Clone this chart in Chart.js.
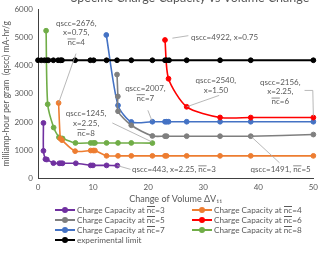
<!DOCTYPE html>
<html lang="en">
<head>
<meta charset="UTF-8" />
<title>Specific Charge Capacity vs Volume Change</title>
<script src="https://cdn.jsdelivr.net/npm/chart.js@4.4.0/dist/chart.umd.min.js"></script>
<style>
    body { margin: 0; background: #fff; font-family: Lato, sans-serif; }
    #wrap { position: relative; width: 323px; height: 256px; overflow: hidden; }
    #title { position: absolute; left: 0; top: -10px; width: 380px; text-align: center;
             font-size: 12.5px; color: #595959; white-space: nowrap; }
    #legend { position: absolute; left: 55px; top: 205px; display: grid;
              grid-template-columns: 137px 120px; font-size: 8.2px; color: #595959; }
    .item { display: flex; align-items: center; height: 10px; white-space: nowrap; }
    .swatch { position: relative; flex: none; width: 20px; height: 2px; margin-right: 2px; }
    .swatch i { position: absolute; left: 7px; top: -2px; width: 6px; height: 6px; border-radius: 50%; }
    .ov { display: inline-block; line-height: 6px; border-top: 0.8px solid #595959; }
</style>
</head>
<body>
<div id="wrap">
    <canvas id="chart" width="323" height="256"></canvas>
    <div id="title">Specific Charge Capacity vs Volume Change</div>
    <div id="legend"></div>
</div>
<script>
    // values (x = change of volume, y = qscc mA-hr/g)
    const x3 = [0.99, 0.99, 1.35, 1.6, 2.8, 3.87, 4.17, 4.46, 6.87, 9.57, 9.98, 12.45, 14.4];
    const y3 = [1963, 969, 670, 660, 530, 525, 525, 525, 525, 450, 450, 450, 443];
    const x4 = [3.74, 4.05, 4.35, 6.74, 9.57, 10.04, 10.34, 12.45, 14.53, 16.94, 20.77, 23.06, 23.35, 27.0, 33.06, 38.63, 50];
    const y4 = [2676, 1409, 1350, 958, 980, 980, 980, 792, 790, 790, 790, 790, 790, 790, 790, 790, 790];
    const x5 = [14.35, 14.5, 14.53, 16.94, 20.77, 23.06, 23.35, 27.0, 33.06, 38.63, 50];
    const y5 = [3690, 2910, 2380, 1881, 1500, 1491, 1491, 1491, 1491, 1491, 1550];
    const x6 = [23.06, 23.7, 27.0, 33.06, 38.63, 50];
    const y6 = [4922, 3540, 2540, 2160, 2156, 2156];
    const x7 = [12.4, 14.53, 16.94, 20.77, 23.06, 23.35, 23.7, 27.0, 33.06, 38.63, 50];
    const y7 = [5101, 2591, 2000, 2007, 2007, 2007, 2007, 2007, 2007, 2007, 2007];
    const x8 = [1.47, 1.76, 2.84, 3.8, 4.2, 4.46, 6.8, 9.57, 10.04, 10.34, 12.45, 14.53, 16.94, 20.77];
    const y8 = [5254, 2630, 1800, 1450, 1409, 1409, 1250, 1250, 1250, 1250, 1250, 1250, 1250, 1245];
    const xLimit = [0, 0.6, 1.17, 1.62, 1.89, 2.79, 3.65, 4.1, 4.35, 6.74, 9.5, 10.1, 12.45, 14.35, 16.94, 20.77, 23.06, 23.35, 23.8, 27.0, 33.06, 38.63, 50];
    const yLimit = [4200, 4200, 4200, 4200, 4200, 4200, 4200, 4200, 4200, 4200, 4200, 4200, 4200, 4200, 4200, 4200, 4200, 4200, 4200, 4200, 4200, 4200, 4200];

    const seriesLabels = ['Charge Capacity at nc=3', 'Charge Capacity at nc=4', 'Charge Capacity at nc=5',
        'Charge Capacity at nc=6', 'Charge Capacity at nc=7', 'Charge Capacity at nc=8', 'experimental limit'];
    const seriesColors = ['#7030A0', '#ED7D31', '#7F7F7F', '#FF0000', '#4472C4', '#70AD47', '#000000'];
    const seriesX = [x3, x4, x5, x6, x7, x8, xLimit];
    const seriesY = [y3, y4, y5, y6, y7, y8, yLimit];

    // call-out labels: text position and leader lines given in data units
    const callouts = [
        { lines: ['qscc=2676,', 'x=0.75,', 'nc=4'], at: [6.94, 5527], align: 'center', leader: [[6.9, 4437], [3.74, 2676]] },
        { lines: ['qscc=4922, x=0.75'], at: [27.8, 5016], align: 'left', leader: [[24.4, 4988], [27.3, 5077]] },
        { lines: ['qscc=2007,', 'nc=7'], at: [19.5, 3195], align: 'center', leader: [[19.95, 2414], [20.7, 2041]] },
        { lines: ['qscc=2540,', 'x=1.50'], at: [32.3, 3479], align: 'center', leader: [[32.9, 2947], [27.0, 2540]] },
        { lines: ['qscc=2156,', 'x=2.25,', 'nc=6'], at: [44.0, 3419], align: 'center', leader: [[48.4, 3124], [49.9, 3124], [50, 2200]] },
        { lines: ['qscc=1245,', 'x=2.25,', 'nc=8'], at: [8.73, 2297], align: 'center', leader: [[13.5, 1963], [20.66, 1289]] },
        { lines: ['qscc=443, x=2.25, nc=3'], at: [17.08, 309], align: 'left', leader: [[14.4, 443], [16.8, 309]] },
        { lines: ['qscc=1491, nc=5'], at: [38.6, 309], align: 'left', leader: [[43.85, 543], [38.63, 1491]] }
    ];

    const datasets = seriesLabels.map((label, i) => ({
        label: label,
        data: seriesX[i].map((x, k) => ({ x: x, y: seriesY[i][k] })),
        showLine: true,
        borderColor: seriesColors[i],
        backgroundColor: seriesColors[i],
        borderWidth: i === 6 ? 2 : 1.6,
        pointRadius: 2.4,
        pointBorderWidth: 1,
        tension: i === 6 ? 0 : 0.25,
        clip: 6,
        order: i === 6 ? -1 : i
    }));

    // legend as html so the overline on nc works
    const legendEl = document.getElementById('legend');
    seriesLabels.forEach((label, i) => {
        const item = document.createElement('div');
        item.className = 'item';
        item.innerHTML = '<span class="swatch" style="background:' + seriesColors[i] + '"><i style="background:' + seriesColors[i] + '"></i></span>' +
            '<span>' + label.replace('nc', '<span class="ov">nc</span>') + '</span>';
        legendEl.appendChild(item);
    });

    // draws the call-outs; every "nc" gets an overline
    const calloutPlugin = {
        id: 'callouts',
        afterDatasetsDraw(chart) {
            const ctx = chart.ctx;
            const sx = chart.scales.x, sy = chart.scales.y;
            ctx.save();
            ctx.font = '8px Lato';
            ctx.textBaseline = 'middle';
            callouts.forEach(c => {
                ctx.strokeStyle = '#A6A6A6';
                ctx.lineWidth = 0.8;
                ctx.beginPath();
                c.leader.forEach((p, k) => {
                    const px = sx.getPixelForValue(p[0]), py = sy.getPixelForValue(p[1]);
                    if (k === 0) ctx.moveTo(px, py); else ctx.lineTo(px, py);
                });
                ctx.stroke();

                const cx = sx.getPixelForValue(c.at[0]);
                let cy = sy.getPixelForValue(c.at[1]);
                c.lines.forEach(line => {
                    const w = ctx.measureText(line).width;
                    let x = c.align === 'center' ? cx - w / 2 : cx;
                    ctx.fillStyle = '#595959';
                    ctx.textAlign = 'left';
                    const parts = line.split('nc');
                    parts.forEach((part, k) => {
                        ctx.fillText(part, x, cy);
                        x += ctx.measureText(part).width;
                        if (k < parts.length - 1) {
                            const nw = ctx.measureText('nc').width;
                            ctx.fillText('nc', x, cy);
                            ctx.strokeStyle = '#595959';
                            ctx.lineWidth = 0.7;
                            ctx.beginPath();
                            ctx.moveTo(x, cy - 3.5);
                            ctx.lineTo(x + nw, cy - 3.5);
                            ctx.stroke();
                            x += nw;
                        }
                    });
                    cy += 9.7;
                });
            });
            ctx.restore();
        }
    };

    Chart.defaults.font.family = 'Lato';
    Chart.defaults.color = '#595959';

    new Chart(document.getElementById('chart'), {
        type: 'scatter',
        data: { datasets: datasets },
        options: {
            responsive: false,
            animation: false,
            layout: { padding: { top: 9, right: 6, bottom: 48, left: 0 } },
            plugins: { legend: { display: false }, tooltip: { enabled: false } },
            scales: {
                x: {
                    type: 'linear', min: 0, max: 50,
                    ticks: { stepSize: 10, padding: 5, font: { size: 8 } },
                    grid: { display: false, drawTicks: false },
                    border: { color: '#404040', width: 1 },
                    title: { display: true, text: 'Change of Volume ΔV₁₁', font: { size: 9 }, padding: { top: 0, bottom: 4 } },
                    afterFit(scale) { scale.height = 30; }
                },
                y: {
                    min: 0, max: 6000,
                    ticks: { stepSize: 1000, padding: 5, font: { size: 8 }, format: { useGrouping: false } },
                    grid: { display: false, drawTicks: false },
                    border: { color: '#404040', width: 1 },
                    title: { display: true, text: 'milliamp-hour per gram  (qscc) mA-hr/g', font: { size: 8.5 }, padding: { top: 1, bottom: 0 } },
                    afterFit(scale) { scale.width = 38; }
                }
            }
        },
        plugins: [calloutPlugin]
    });
</script>
</body>
</html>
